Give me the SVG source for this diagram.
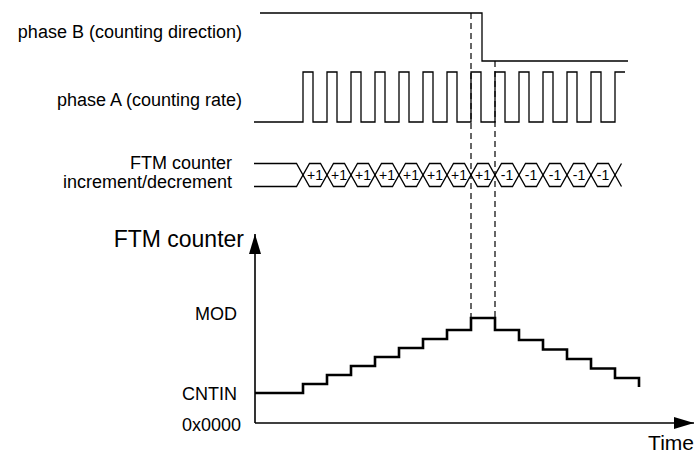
<svg xmlns="http://www.w3.org/2000/svg" width="696" height="455" viewBox="0 0 696 455">
<style>
text{font-family:"Liberation Sans",Arial,Helvetica,sans-serif;fill:#000}
.lbl{font-size:18px;text-anchor:end}
.big{font-size:23px}
.bus{font-size:14px;text-anchor:middle}
.sig{fill:none;stroke:#000;stroke-width:1.3}
.dash{fill:none;stroke:#000;stroke-width:1.2;stroke-dasharray:6 4}
.axis{fill:none;stroke:#000;stroke-width:1.6}
.stair{fill:none;stroke:#000;stroke-width:2.6}
</style>
<defs>
<marker id="arr" viewBox="0 0 20 12" refX="20" refY="6" markerWidth="20" markerHeight="12" markerUnits="userSpaceOnUse" orient="auto">
<path d="M0,0 L20,6 L0,12 Z" fill="#000"/>
</marker>
</defs>
<g id="labels">
<text class="lbl" x="242" y="38">phase B (counting direction)</text>
<text class="lbl" x="242" y="106">phase A (counting rate)</text>
<text class="lbl" x="232" y="169">FTM counter</text>
<text class="lbl" x="232" y="188">increment/decrement</text>
<text class="lbl big" x="244" y="247">FTM counter</text>
<text class="lbl" x="237" y="320">MOD</text>
<text class="lbl" x="237" y="400">CNTIN</text>
<text class="lbl" x="241" y="431">0x0000</text>
<text class="lbl" style="font-size:21px" x="694" y="450">Time</text>
</g>
<g id="phaseB">
<path class="sig" d="M260,13 H482 V61 H628"/>
</g>
<g id="phaseA">
<path class="sig" d="M254,122 H303 V72 H313 V122 H327 V72 H337 V122 H351 V72 H361 V122 H375 V72 H385 V122 H399 V72 H409 V122 H423 V72 H433 V122 H447 V72 H457 V122 H471 V72 H481 V122 H495 V72 H505 V122 H519 V72 H529 V122 H543 V72 H553 V122 H567 V72 H577 V122 H591 V72 H601 V122 H615 V72 H625"/>
</g>
<g id="bus">
<path class="sig" d="M254,163.5 H296.5 L309.5,186.5 H320.5 L333.5,163.5 H344.5 L357.5,186.5 H368.5 L381.5,163.5 H392.5 L405.5,186.5 H416.5 L429.5,163.5 H440.5 L453.5,186.5 H464.5 L477.5,163.5 H488.5 L501.5,186.5 H512.5 L525.5,163.5 H536.5 L549.5,186.5 H560.5 L573.5,163.5 H584.5 L597.5,186.5 H608.5 L621.5,163.5"/>
<path class="sig" d="M254,186.5 H296.5 L309.5,163.5 H320.5 L333.5,186.5 H344.5 L357.5,163.5 H368.5 L381.5,186.5 H392.5 L405.5,163.5 H416.5 L429.5,186.5 H440.5 L453.5,163.5 H464.5 L477.5,186.5 H488.5 L501.5,163.5 H512.5 L525.5,186.5 H536.5 L549.5,163.5 H560.5 L573.5,186.5 H584.5 L597.5,163.5 H608.5 L621.5,186.5"/>
<text class="bus" x="315" y="180">+1</text>
<text class="bus" x="339" y="180">+1</text>
<text class="bus" x="363" y="180">+1</text>
<text class="bus" x="387" y="180">+1</text>
<text class="bus" x="411" y="180">+1</text>
<text class="bus" x="435" y="180">+1</text>
<text class="bus" x="459" y="180">+1</text>
<text class="bus" x="483" y="180">+1</text>
<text class="bus" x="507" y="180">-1</text>
<text class="bus" x="531" y="180">-1</text>
<text class="bus" x="555" y="180">-1</text>
<text class="bus" x="579" y="180">-1</text>
<text class="bus" x="603" y="180">-1</text>
</g>
<g id="connectors">
<path class="dash" d="M471,13 V318"/>
<path class="dash" d="M495,61 V318"/>
</g>
<g id="axes">
<path class="axis" d="M255,423 V234" marker-end="url(#arr)"/>
<path class="axis" d="M255,423 H694" marker-end="url(#arr)"/>
</g>
<g id="counter">
<path class="stair" d="M255,393 H303 V384 H327 V375 H351 V366 H375 V357 H399 V348 H423 V339 H447 V330 H471 V318 H495 V330 H519 V340 H543 V349.5 H567 V359 H591 V368.5 H615 V378 H639 V387"/>
</g>
</svg>
